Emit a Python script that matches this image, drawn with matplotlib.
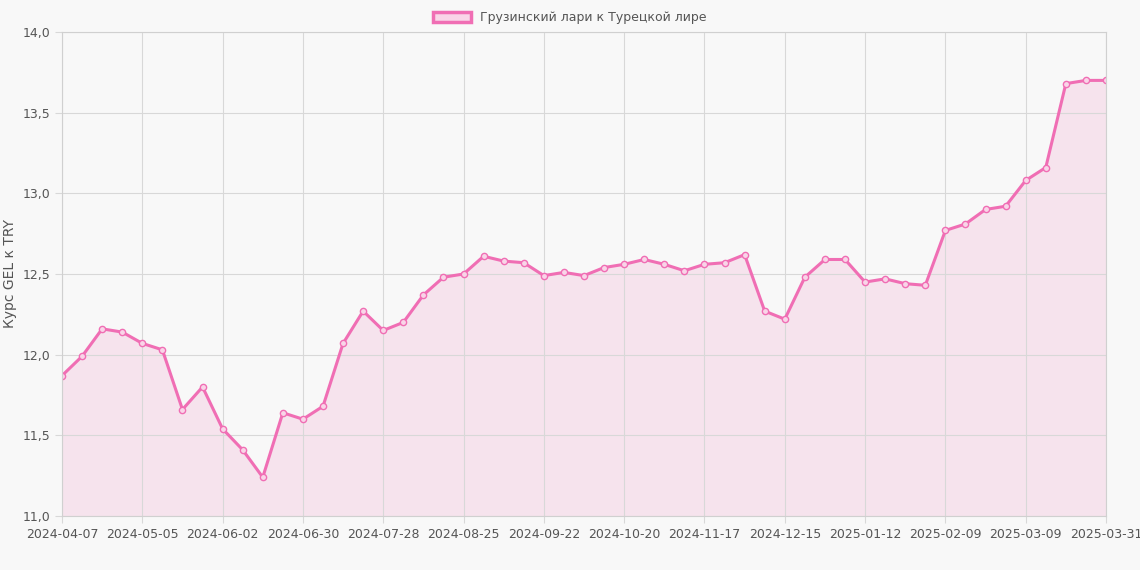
import matplotlib
matplotlib.use("Agg")
from matplotlib import pyplot as plt
from matplotlib.ticker import FuncFormatter
from matplotlib.patches import Patch
import pandas as pd

dates = [d.strftime("%Y-%m-%d") for d in pd.date_range("2024-04-07", "2025-03-30", freq="7D")] + ["2025-03-31"]
rates = [11.87, 11.99, 12.16, 12.14, 12.07, 12.03, 11.66, 11.80, 11.54, 11.41,
         11.24, 11.64, 11.60, 11.68, 12.07, 12.27, 12.15, 12.20, 12.37, 12.48,
         12.50, 12.61, 12.58, 12.57, 12.49, 12.51, 12.49, 12.54, 12.56, 12.59,
         12.56, 12.52, 12.56, 12.57, 12.62, 12.27, 12.22, 12.48, 12.59, 12.59,
         12.45, 12.47, 12.44, 12.43, 12.77, 12.81, 12.90, 12.92, 13.08, 13.16,
         13.68, 13.70, 13.70]
label = "Грузинский лари к Турецкой лире"

pink = "#f06eb4"
bg = "#f8f8f8"
fig = plt.figure(figsize=(11.4, 5.7), dpi=100, facecolor=bg)
ax = fig.add_axes([62 / 1140, 1 - 516 / 570, (1106 - 62) / 1140, (516 - 32) / 570], facecolor=bg)

x = list(range(len(dates)))
ax.fill_between(x, rates, 11.0, color=pink, alpha=0.15, linewidth=0)
ax.plot(x, rates, color=pink, linewidth=2.2, marker="o", markersize=4.5,
        markerfacecolor="#f9d5e8", markeredgecolor=pink, markeredgewidth=1, label=label)

ticks = list(range(0, len(dates) - 1, 4)) + [len(dates) - 1]
ax.set_xticks(ticks)
ax.set_xticklabels([dates[i] for i in ticks])
ax.set_xlim(0, len(dates) - 1)
ax.set_ylim(11.0, 14.0)
ax.set_yticks([11.0, 11.5, 12.0, 12.5, 13.0, 13.5, 14.0])
ax.yaxis.set_major_formatter(FuncFormatter(lambda v, p: f"{v:.1f}".replace(".", ",")))
ax.grid(True, color="#d8d8d8", linewidth=0.8)
for s in ax.spines.values():
    s.set_color("#d0d0d0")
ax.tick_params(colors="#555555", labelsize=9, length=5, color="#d8d8d8")
ax.set_ylabel("Курс GEL к TRY", color="#555555", fontsize=10)

h = Patch(facecolor="#f9d5e8", edgecolor=pink, linewidth=2.5)
fig.legend([h], [label], loc="upper center", bbox_to_anchor=(0.5, 1.0), frameon=False,
           fontsize=9, labelcolor="#555555", handlelength=3, handleheight=0.9)

fig.savefig("out.png", dpi=100, facecolor=bg)
